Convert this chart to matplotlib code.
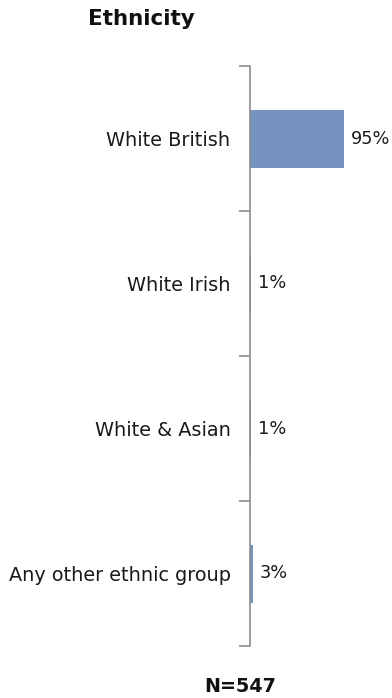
import matplotlib
matplotlib.use("Agg")
import matplotlib.pyplot as plt
import numpy as np

categories = ["White British", "White Irish", "White & Asian", "Any other ethnic group"]
values = [95, 1, 1, 3]
title = "Ethnicity"
note = "N=547"

W, H = 392, 698
fig = plt.figure(figsize=(W / 100, H / 100), dpi=100)
ax = fig.add_axes([250 / W, 1 - 646 / H, (W - 250) / W, (646 - 66) / H])

y = np.arange(len(categories))
ax.barh(y, values, height=0.4, color="#7592C0", zorder=2)
ax.set_ylim(len(categories) - 0.5, -0.5)
ax.set_xlim(0, 144)

for yi, v in zip(y, values):
    ax.text(v + 7, yi, f"{v}%", va="center", ha="left", fontsize=12.8, color="#1a1a1a",
            family="DejaVu Sans")

for s in ["top", "right", "bottom"]:
    ax.spines[s].set_visible(False)
ax.spines["left"].set_color("#8c8c8c")
ax.spines["left"].set_linewidth(1.2)
ax.set_xticks([])
ax.set_yticks(y)
ax.set_yticklabels(categories, fontsize=13.9, color="#1a1a1a", family="DejaVu Sans")
ax.tick_params(axis="y", which="major", length=0, pad=14)
ax.set_yticks(np.arange(len(categories) + 1) - 0.5, minor=True)
ax.tick_params(axis="y", which="minor", length=8, width=1.2, color="#8c8c8c")

fig.text(141 / W, 1 - 19 / H, title, ha="center", va="center", fontsize=15.5,
         fontweight="bold", color="#111111", family="DejaVu Sans")
fig.text(240 / W, 1 - 686 / H, note, ha="center", va="center", fontsize=13.8,
         fontweight="bold", color="#111111", family="DejaVu Sans")

fig.savefig("out.png", dpi=100)
